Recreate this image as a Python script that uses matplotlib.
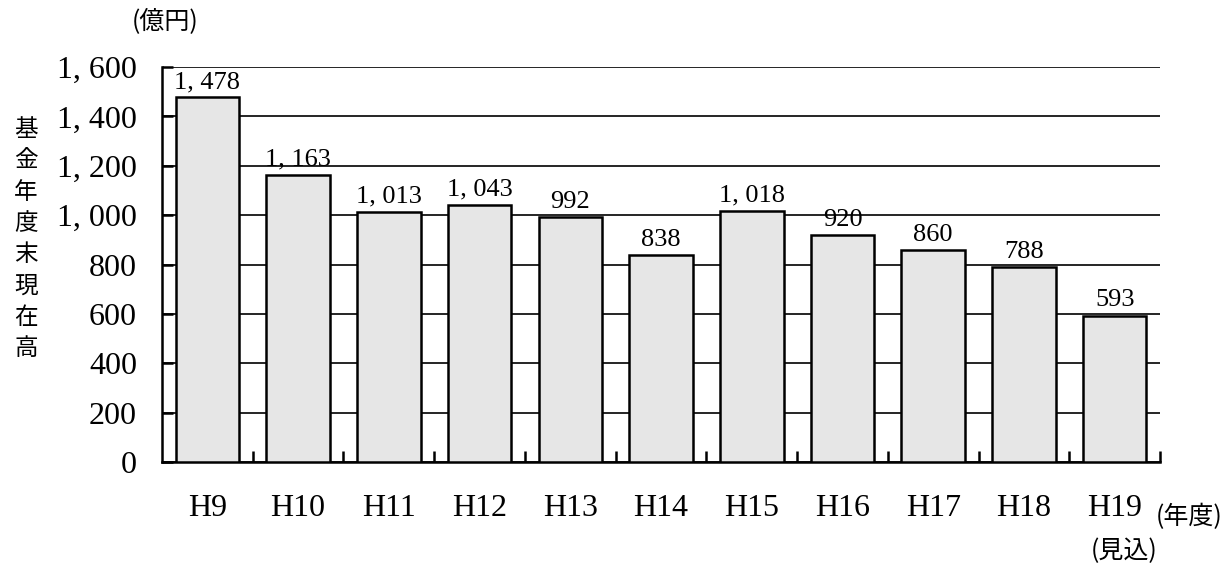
import matplotlib.pyplot as plt

# 基金年度末現在高 (億円)
years = ['H9', 'H10', 'H11', 'H12', 'H13', 'H14', 'H15', 'H16', 'H17', 'H18', 'H19']
balances = [1478, 1163, 1013, 1043, 992, 838, 1018, 920, 860, 788, 593]
yticks = [0, 200, 400, 600, 800, 1000, 1200, 1400, 1600]

SERIF = ['Liberation Serif', 'DejaVu Serif']
CJK = ['Noto Sans CJK JP', 'DejaVu Sans']


def fmt(v):
    """Format numbers like the original: 1, 478"""
    return f'{v:,}'.replace(',', ', ')


fig = plt.figure(figsize=(12.32, 5.66), dpi=100)
ax = fig.add_axes([0.1315, 0.1837, 0.9416 - 0.1315, 0.8816 - 0.1837])

x = list(range(len(years)))
bars = ax.bar(x, balances, width=0.7, color='#e6e6e6', edgecolor='black',
              linewidth=1.8, zorder=3)

for xi, v in zip(x, balances):
    ax.annotate(fmt(v), (xi, v), xytext=(0, 3), textcoords='offset points',
                ha='center', va='bottom', fontsize=19, family=SERIF, zorder=4)

ax.set_xlim(-0.5, len(years) - 0.5)
ax.set_ylim(0, 1600)
ax.set_yticks(yticks)
ax.set_yticklabels([fmt(t) for t in yticks], family=SERIF, fontsize=23)
ax.yaxis.grid(True, color='black', linewidth=1.2, zorder=0)
ax.set_axisbelow(True)

# category labels, ticks between bars
ax.set_xticks(x)
ax.set_xticklabels(years, family=SERIF, fontsize=23)
ax.tick_params(axis='x', which='major', length=0, pad=23)
ax.set_xticks([i - 0.5 for i in range(1, len(years) + 1)], minor=True)
ax.tick_params(axis='x', which='minor', direction='in', length=8, width=1.8)
ax.tick_params(axis='y', direction='in', length=8, width=1.8, pad=18)

for side in ['top', 'right']:
    ax.spines[side].set_visible(False)
for side in ['left', 'bottom']:
    ax.spines[side].set_linewidth(1.8)

# texts
fig.text(26 / 1232, 1 - 239 / 566, '\n'.join('基金年度末現在高'), ha='center', va='center',
         fontsize=17, family=CJK, linespacing=1.46)
fig.text(165 / 1232, 1 - 22 / 566, '(億円)', ha='center', va='center',
         fontsize=18, family=CJK)
fig.text(1189 / 1232, 1 - 517 / 566, '(年度)', ha='center', va='center',
         fontsize=18, family=CJK)
fig.text(1124 / 1232, 1 - 551 / 566, '(見込)', ha='center', va='center',
         fontsize=18, family=CJK)

fig.savefig('out.png', dpi=100)
